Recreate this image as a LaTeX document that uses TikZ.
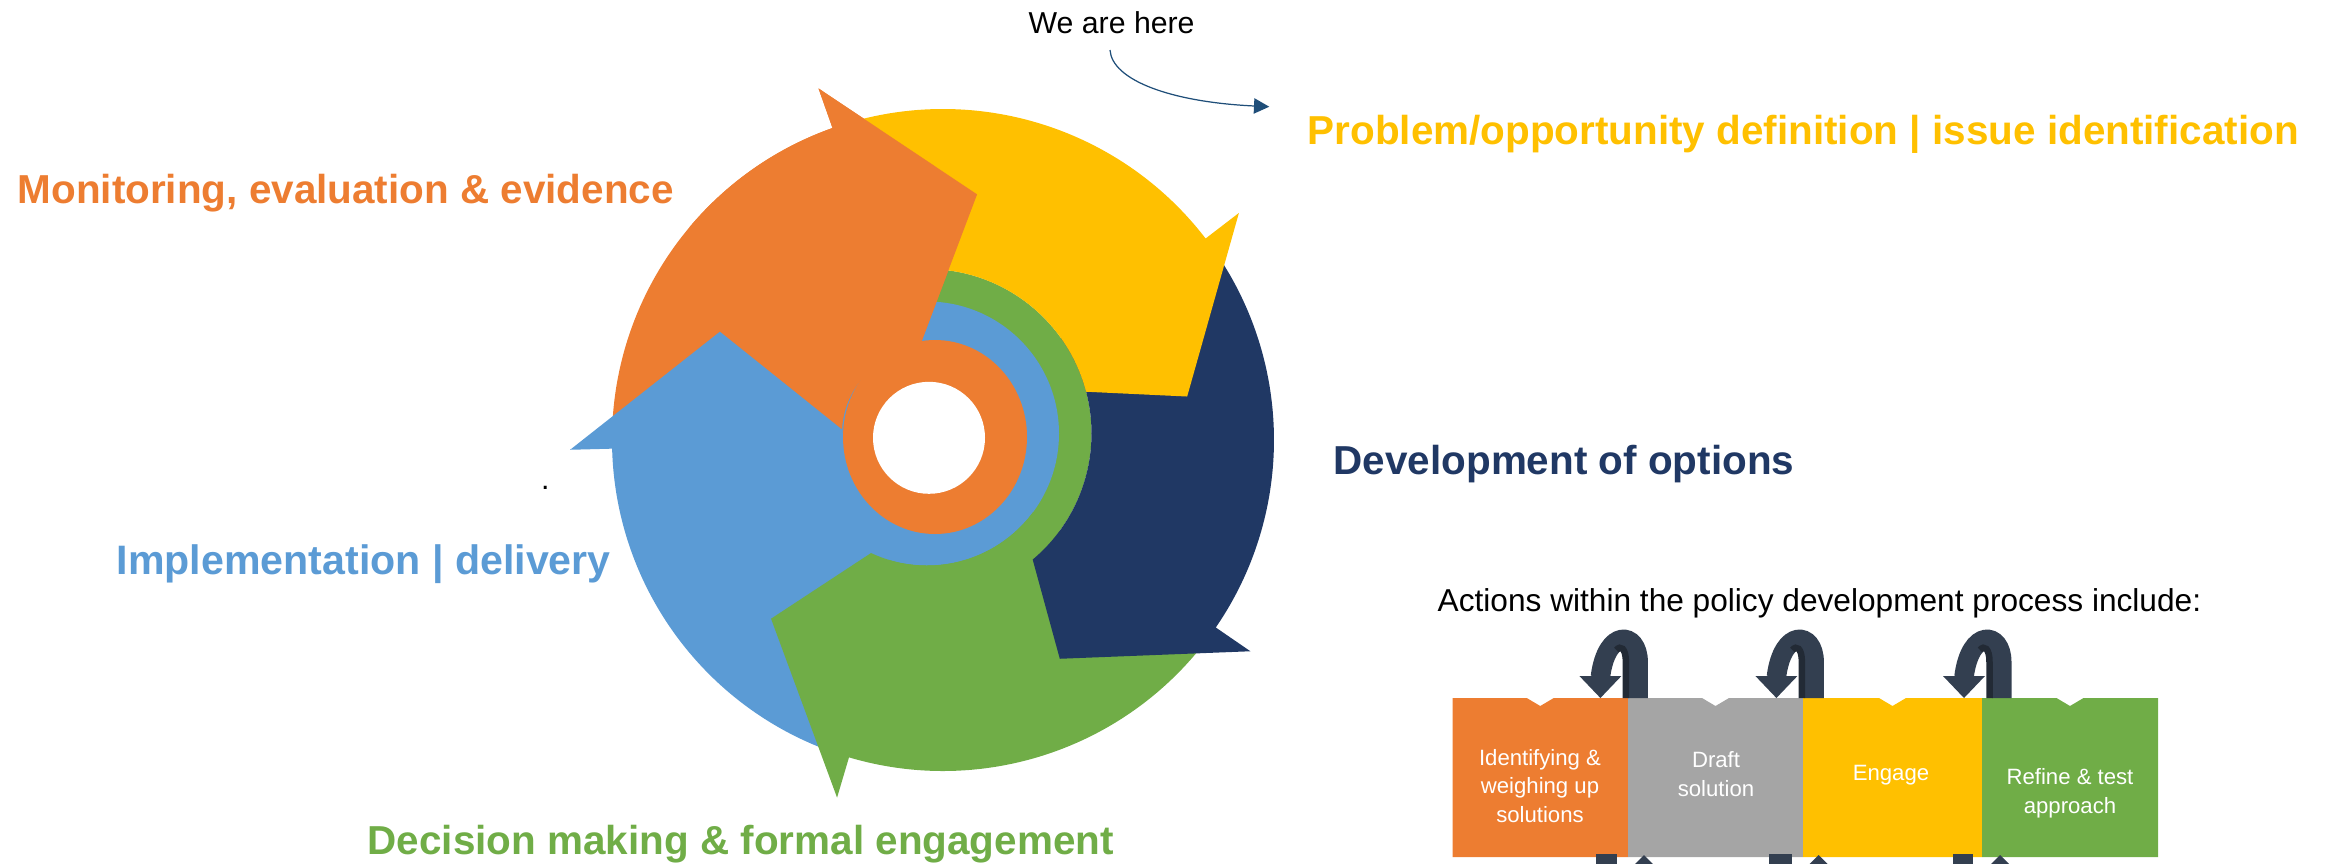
\documentclass[tikz,border=0pt]{standalone}
\usepackage{fontspec}
\setmainfont{Liberation Sans}
\usetikzlibrary{calc,arrows.meta}
\definecolor{corange}{HTML}{ED7D31}
\definecolor{cyellow}{HTML}{FFC000}
\definecolor{cnavy}{HTML}{203864}
\definecolor{cgreen}{HTML}{70AD47}
\definecolor{cblue}{HTML}{5B9BD5}
\definecolor{cgray}{HTML}{A5A5A5}
\definecolor{cslate}{HTML}{333F50}
\definecolor{cslatedark}{HTML}{222A35}
\definecolor{cpointer}{HTML}{1F4E79}

\begin{document}
\begin{tikzpicture}[x=0.01cm, y=-0.01cm,
  stagelabel/.style={inner sep=0, anchor=base west, font=\fontsize{11.5}{13.8}\selectfont\bfseries},
  plainlabel/.style={inner sep=0, anchor=base west, font=\fontsize{8.6}{10.3}\selectfont},
  boxtext/.style={inner sep=0, anchor=base, align=center, text=white, font=\fontsize{6.3}{8.2}\selectfont},
  looparrow/.style={draw=cslate, line width=0.195cm},
]
\useasboundingbox (0,0) rectangle (2335,863);

% ---- cycle: centres of the outer wheel and of the inner rings
\coordinate (C) at (943,440);
\coordinate (Ci) at (927,433.5);

% inner rings underneath the arrows
\fill[cgreen] (Ci) circle[radius=164.5];
\fill[cblue] (Ci) circle[radius=132];

% five curved arrows (each head lies over the tail of the next one)
\fill[corange] ($(C)+(180.5:331)$) arc[start angle=180.5, end angle=250.5, radius=331]
  -- ($(C)+(250.5:373)$) -- ($(C)+(277.9:248)$) -- ($(Ci)+(264.4:85)$)
  arc[start angle=264.4, end angle=180.5, radius=85] -- cycle;
\fill[cblue] ($(C)+(108.5:331)$) arc[start angle=108.5, end angle=178.5, radius=331]
  -- ($(C)+(178.5:373)$) -- ($(C)+(205.9:248)$) -- ($(Ci)+(182.66:85)$)
  arc[start angle=182.66, end angle=108.5, radius=85] -- cycle;
\fill[cgreen] ($(C)+(36.5:331)$) arc[start angle=36.5, end angle=106.5, radius=331]
  -- ($(C)+(106.5:373)$) -- ($(C)+(133.9:248)$) -- ($(Ci)+(115.1:132)$)
  arc[start angle=115.1, end angle=36.5, radius=132] -- cycle;
\fill[cnavy] ($(C)+(-35.5:331)$) arc[start angle=-35.5, end angle=34.5, radius=331]
  -- ($(C)+(34.5:373)$) -- ($(C)+(61.9:248)$) -- ($(Ci)+(50.03:164.5)$)
  arc[start angle=50.03, end angle=-35.5, radius=164.5] -- cycle;
\fill[cyellow] ($(C)+(-107.5:331)$) arc[start angle=-107.5, end angle=-37.5, radius=331]
  -- ($(C)+(-37.5:373)$) -- ($(C)+(-10.1:248)$) -- ($(Ci)+(-14.71:164.5)$)
  arc[start angle=-14.71, end angle=-107.5, radius=164.5] -- cycle;
% orange head again, over the yellow tail
\fill[corange] ($(C)+(220:331)$) arc[start angle=220, end angle=250.5, radius=331]
  -- ($(C)+(250.5:373)$) -- ($(C)+(277.9:248)$) -- ($(Ci)+(264.4:85)$)
  arc[start angle=264.4, end angle=220, radius=85] -- cycle;

% innermost ring and hole
\fill[corange] (935,437) ellipse[x radius=92, y radius=97];
\fill[white] (929,437.8) circle[radius=56];

% ---- stage labels
\node[stagelabel, text=corange] (lmon) at (17,203.3) {Monitoring, evaluation \& evidence};
\node[stagelabel, text=cyellow] (lprob) at (1307,144.3) {Problem/opportunity definition | issue identification};
\node[stagelabel, text=cnavy] (ldev) at (1333,474.3) {Development of options};
\node[stagelabel, text=cblue, font=\fontsize{11.7}{14}\selectfont\bfseries] (limp) at (116,574.3) {Implementation | delivery};
\node[stagelabel, text=cgreen] (ldec) at (367,854.3) {Decision making \& formal engagement};
\node[plainlabel] (dot) at (540.5,489.5) {.};

% ---- pointer
\node[plainlabel] (here) at (1028,33.3) {We are here};
\coordinate (herefrom) at (1110,50);
\coordinate (hereto) at (1269.3,106.7);
\draw[cpointer, line width=0.35pt, -{Triangle[length=0.153cm,width=0.153cm]}]
  (herefrom) .. controls (1112,80) and (1170,102) .. (hereto);

% ---- process strip
\node[inner sep=0, anchor=base west, font=\fontsize{9}{10.8}\selectfont] (actions) at (1437,611.7)
  {Actions within the policy development process include:};

\foreach \xa/\xb/\col in {1452.5/1628/corange, 1628/1803/cgray, 1803/1982/cyellow, 1982/2158/cgreen}{
  \fill[\col] (\xa,698) -- ({(\xa+\xb)/2-13.5},698) -- ({(\xa+\xb)/2},706) -- ({(\xa+\xb)/2+13.5},698)
    -- (\xb,698) -- (\xb,857) -- (\xa,857) -- cycle;
}
% base anchor of a multi-line node sits on its last line
\node[boxtext] (b1) at (1540,822.7) {Identifying \&\\weighing up\\solutions};
\node[boxtext] (b2) at (1716,796.7) {Draft\\solution};
\node[boxtext] (b3) at (1891,780) {Engage};
\node[boxtext] (b4) at (2070,813.3) {Refine \& test\\approach};

% loop-back arrows above the strip
\foreach \b in {1628.4,1804.4,1992}{
  \draw[looparrow] (\b+9.75,698) -- (\b+9.75,662) .. controls (\b+9.75,631) and (\b-22,628) .. (\b-28,677);
  \fill[cslate] (\b-49,676) -- (\b-7,676) -- (\b-28,698) -- cycle;
  \draw[cslatedark, line width=0.065cm] (\b-2.5,698) -- (\b-2.5,662) .. controls (\b-2.5,648) and (\b-8,645) .. (\b-12,650);
}

% loop-back arrows below the strip, cut by the page edge
\begin{scope}
  \clip (0,0) rectangle (2335,863);
  \foreach \sa/\sb/\tp in {1596/1617/1644, 1769/1792/1818.7, 1953/1973/2000}{
    \fill[cslate] (\sa,854) rectangle (\sb,880);
    \fill[cslate] (\tp,855) -- (\tp+21,876) -- (\tp-21,876) -- cycle;
  }
\end{scope}
\end{tikzpicture}
\end{document}
